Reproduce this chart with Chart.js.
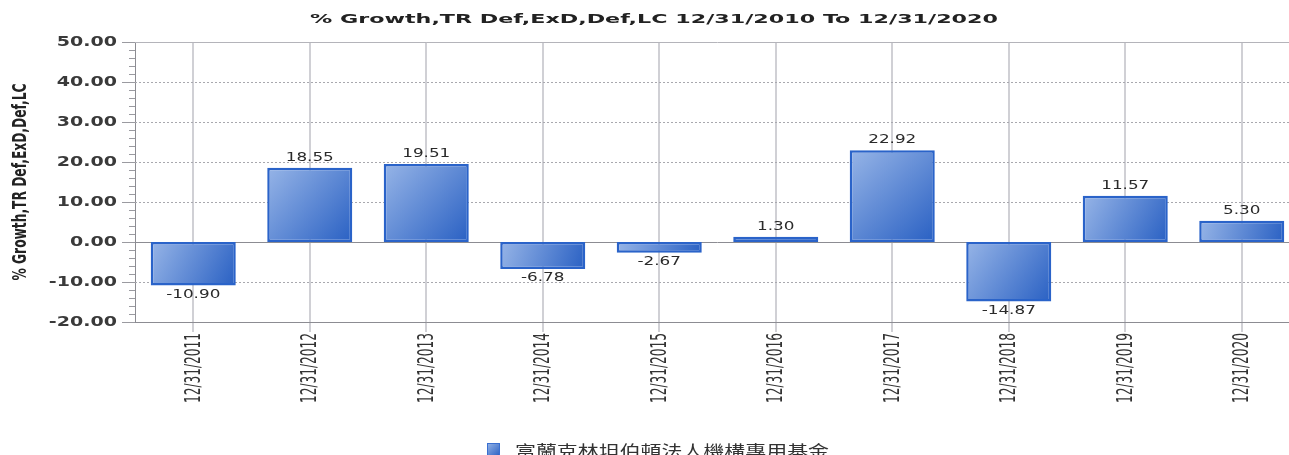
<!DOCTYPE html>
<html>
<head>
<meta charset="utf-8">
<script src="https://cdn.jsdelivr.net/npm/chart.js@4.4.1/dist/chart.umd.min.js"></script>
<style>
  html, body { margin: 0; padding: 0; background: #fff; overflow: hidden; }
  #wrap { width: 1301px; height: 455px; position: relative; }
</style>
</head>
<body>
<div id="wrap"><canvas id="growthChart"></canvas></div>
<script>
// Chart data
const categories = ['12/31/2011', '12/31/2012', '12/31/2013', '12/31/2014', '12/31/2015',
                    '12/31/2016', '12/31/2017', '12/31/2018', '12/31/2019', '12/31/2020'];
const growthValues = [-10.90, 18.55, 19.51, -6.78, -2.67, 1.30, 22.92, -14.87, 11.57, 5.30];
const yTickValues = [-20, -10, 0, 10, 20, 30, 40, 50];
const seriesName = '富蘭克林坦伯頓法人機構專用基金';
const chartTitle = '% Growth,TR Def,ExD,Def,LC 12/31/2010 To 12/31/2020';
const yAxisTitle = '% Growth,TR Def,ExD,Def,LC';

const narrowFont = '"Liberation Sans Narrow", "DejaVu Sans Condensed", "Liberation Sans", Arial, sans-serif';

// draw text with its own horizontal / vertical stretch (the reference text is widened)
const drawText = (ctx, text, x, y, o) => {
    ctx.save();
    ctx.translate(x, y);
    if (o.rotate) ctx.rotate(o.rotate);
    ctx.font = o.font;
    let sx = o.sx || 1;
    if (o.width) sx = o.width / ctx.measureText(text).width;
    ctx.scale(sx, o.sy || 1);
    ctx.fillStyle = o.color || '#333';
    ctx.textAlign = o.align || 'left';
    ctx.textBaseline = o.baseline || 'middle';
    ctx.fillText(text, 0, 0);
    ctx.restore();
};

const barGradient = (ctx, x0, y0, x1, y1) => {
    const g = ctx.createLinearGradient(x0, y0, x1, y1);
    g.addColorStop(0, '#97b5e7');
    g.addColorStop(1, '#2960c3');
    return g;
};

const decorations = {
    id: 'decorations',
    beforeDatasetsDraw(chart) {
        const { ctx, chartArea, scales: { y } } = chart;
        ctx.save();
        // horizontal grid lines
        yTickValues.forEach(v => {
            const py = Math.round(y.getPixelForValue(v)) + 0.5;
            ctx.beginPath();
            if (v === 0 || v === -20) {
                ctx.setLineDash([]);
                ctx.strokeStyle = '#8c8c92';
            } else if (v === 50) {
                ctx.setLineDash([]);
                ctx.strokeStyle = '#b4b4ba';
            } else {
                ctx.setLineDash([2, 2]);
                ctx.strokeStyle = '#a8a8ae';
            }
            ctx.lineWidth = 1;
            ctx.moveTo(chartArea.left, py);
            ctx.lineTo(chartArea.right, py);
            ctx.stroke();
        });
        ctx.setLineDash([]);
        // major and minor tick marks on the y axis
        ctx.strokeStyle = '#9a9aa0';
        for (let v = -20; v <= 50; v += 2) {
            const py = Math.round(y.getPixelForValue(v)) + 0.5;
            const len = v % 10 === 0 ? 13 : 6;
            ctx.beginPath();
            ctx.moveTo(chartArea.left - len, py);
            ctx.lineTo(chartArea.left, py);
            ctx.stroke();
        }
        ctx.restore();
    },
    afterDraw(chart) {
        const { ctx, chartArea, scales: { x, y } } = chart;
        // title
        drawText(ctx, chartTitle, 654, 20,
            { font: 'bold 13px "DejaVu Sans"', width: 688, align: 'center', color: '#222' });
        // y axis title
        drawText(ctx, yAxisTitle, 21, (chartArea.top + chartArea.bottom) / 2,
            { font: 'bold 16px ' + narrowFont, rotate: -Math.PI / 2, width: 197, sy: 1.25, align: 'center', color: '#222' });
        // y tick labels
        yTickValues.forEach(v => {
            drawText(ctx, v.toFixed(2), 117, y.getPixelForValue(v) + 0.5,
                { font: 'bold 14px "DejaVu Sans"', sx: 1.36, align: 'right', color: '#3a3a3a' });
        });
        // x tick labels
        categories.forEach((c, i) => {
            drawText(ctx, c, x.getPixelForValue(i) + 1, 333,
                { font: '16px ' + narrowFont, rotate: -Math.PI / 2, width: 70, sy: 1.3, align: 'right', color: '#333' });
        });
        // value labels
        const meta = chart.getDatasetMeta(0);
        meta.data.forEach((bar, i) => {
            const v = growthValues[i];
            const py = v >= 0 ? bar.y - 10 : bar.y + 9;
            drawText(ctx, v.toFixed(2), bar.x, py,
                { font: '12px "DejaVu Sans"', sx: 1.4, align: 'center', color: '#2a2a2a' });
        });
        // legend
        ctx.save();
        ctx.fillStyle = barGradient(ctx, 487, 443, 500, 456);
        ctx.fillRect(487, 443, 13, 13);
        ctx.strokeStyle = '#3a6fd0';
        ctx.lineWidth = 1;
        ctx.strokeRect(487.5, 443.5, 12, 12);
        ctx.restore();
        drawText(ctx, seriesName, 515, 451,
            { font: '16px "Noto Sans CJK TC"', width: 314, color: '#333' });
    }
};

const ctx = document.getElementById('growthChart').getContext('2d');
const growthChart = new Chart(ctx, {
    type: 'bar',
    data: {
        labels: categories,
        datasets: [{
            label: seriesName,
            data: growthValues,
            backgroundColor: (c) => {
                const chart = c.chart;
                if (!chart.chartArea || c.dataIndex === undefined) return '#5b87d6';
                const xs = chart.scales.x, ys = chart.scales.y;
                const cx = xs.getPixelForValue(c.dataIndex);
                const half = 43;
                const a = ys.getPixelForValue(0), b = ys.getPixelForValue(growthValues[c.dataIndex]);
                return barGradient(chart.ctx, cx - half, Math.min(a, b), cx + half, Math.max(a, b));
            },
            borderColor: '#2a63c9',
            borderWidth: 2.5,
            borderSkipped: false,
            barPercentage: 0.73,
            categoryPercentage: 1
        }]
    },
    options: {
        responsive: true,
        maintainAspectRatio: false,
        animation: false,
        layout: { padding: { top: 42, right: 1, left: 0, bottom: 0 } },
        scales: {
            x: {
                offset: true,
                grid: { offset: false, color: '#d0d0d5', lineWidth: 2, tickLength: 10 },
                border: { display: true, color: '#8c8c92' },
                ticks: { display: false },
                afterFit: (s) => { s.height = 133; }
            },
            y: {
                min: -20,
                max: 50,
                ticks: { display: false, stepSize: 10 },
                grid: { display: false },
                border: { display: true, color: '#8c8c92' },
                afterFit: (s) => { s.width = 135; }
            }
        },
        plugins: {
            legend: { display: false },
            title: { display: false },
            tooltip: { enabled: false }
        }
    },
    plugins: [decorations]
});
</script>
</body>
</html>
